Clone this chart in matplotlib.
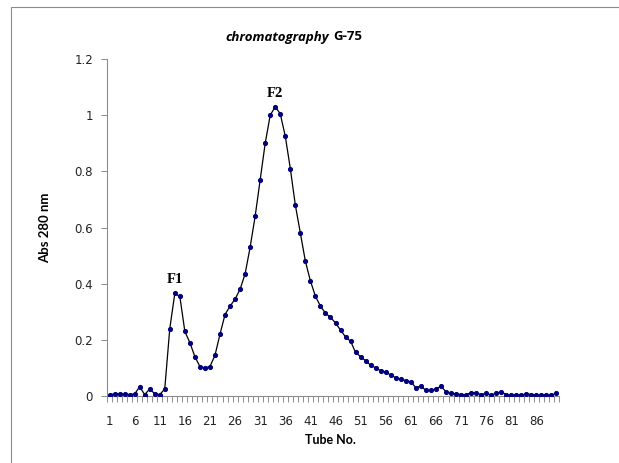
import matplotlib
matplotlib.use("Agg")
import matplotlib.pyplot as plt
from matplotlib.patches import Rectangle

tubes = list(range(1, 91))
absorbance = [
    0.005, 0.007, 0.007, 0.007, 0.005, 0.007, 0.033, 0.005, 0.025, 0.008,
    0.005, 0.025, 0.24, 0.365, 0.355, 0.23, 0.19, 0.14, 0.105, 0.10,
    0.105, 0.145, 0.22, 0.29, 0.32, 0.345, 0.38, 0.435, 0.53, 0.64,
    0.77, 0.90, 1.00, 1.03, 1.005, 0.925, 0.81, 0.68, 0.58, 0.48,
    0.41, 0.355, 0.32, 0.295, 0.28, 0.26, 0.235, 0.21, 0.195, 0.155,
    0.14, 0.125, 0.11, 0.10, 0.09, 0.085, 0.075, 0.065, 0.06, 0.055,
    0.05, 0.03, 0.035, 0.02, 0.02, 0.025, 0.035, 0.015, 0.01, 0.008,
    0.005, 0.005, 0.012, 0.012, 0.005, 0.01, 0.003, 0.01, 0.015, 0.005,
    0.003, 0.005, 0.003, 0.008, 0.005, 0.004, 0.003, 0.004, 0.003, 0.01,
]
xtick_labels = [str(t) for t in range(1, 90, 5)]
ytick_values = [0, 0.2, 0.4, 0.6, 0.8, 1.0, 1.2]
ytick_labels = ["0", "0.2", "0.4", "0.6", "0.8", "1", "1.2"]
peak_labels = ["F1", "F2"]
peak_tubes = [14, 34]
peak_heights = [0.365, 1.03]

W, H = 619, 463
fig = plt.figure(figsize=(W / 100, H / 100), dpi=100)
fig.patch.set_facecolor("white")

# chart-area border
fig.add_artist(Rectangle((11 / W, -0.05), 1.1, 1 - 7 / H + 0.05,
                         transform=fig.transFigure, fill=False,
                         edgecolor="#8c8c8c", linewidth=0.8))

ax = fig.add_axes([107 / W, 1 - 396 / H, (559 - 107) / W, (396 - 59) / H])
ax.plot(tubes, absorbance, color="black", linewidth=0.9, marker="o",
        markersize=2.7, markerfacecolor="#000080", markeredgecolor="#000080",
        zorder=3)

ax.set_xlim(0.5, 90.5)
ax.set_ylim(0, 1.2)
for s in ["top", "right"]:
    ax.spines[s].set_visible(False)
for s in ["left", "bottom"]:
    ax.spines[s].set_color("#8c8c8c")
    ax.spines[s].set_linewidth(0.8)

ax.set_yticks(ytick_values)
ax.set_yticklabels(ytick_labels)
ax.set_xticks([int(l) for l in xtick_labels])
ax.set_xticklabels(xtick_labels)
ax.set_xticks([t + 0.5 for t in range(0, 91)], minor=True)
ax.tick_params(axis="x", which="major", length=0, pad=14, labelsize=8.5,
               labelcolor="#222222")
ax.tick_params(axis="x", which="minor", length=4, color="#8c8c8c", width=0.7,
               direction="out")
ax.tick_params(axis="y", which="major", length=4, color="#8c8c8c", width=0.7,
               labelsize=8.5, labelcolor="#222222", pad=6)

for lab, t, h in zip(peak_labels, peak_tubes, peak_heights):
    ax.text(t, h + 0.025, lab, ha="center", va="bottom",
            family="Liberation Serif", fontweight="bold", fontsize=10.5)

fig.text(329 / W, 1 - 37 / H, "chromatography", ha="right", va="center",
         family="Open Sans", fontweight="bold", fontstyle="italic",
         fontsize=9.5)
fig.text(333 / W, 1 - 37 / H, "G-75", ha="left", va="center",
         family="Open Sans", fontweight="bold", fontsize=9.5)

fig.text(45 / W, 1 - 228 / H, "Abs 280 nm", rotation=90, ha="center",
         va="center", family="Lato", fontweight="bold", fontsize=9.5)
fig.text(330 / W, 1 - 440 / H, "Tube No.", ha="center", va="center",
         family="Lato", fontweight="bold", fontsize=9)

fig.savefig("out.png", dpi=100, facecolor="white")
